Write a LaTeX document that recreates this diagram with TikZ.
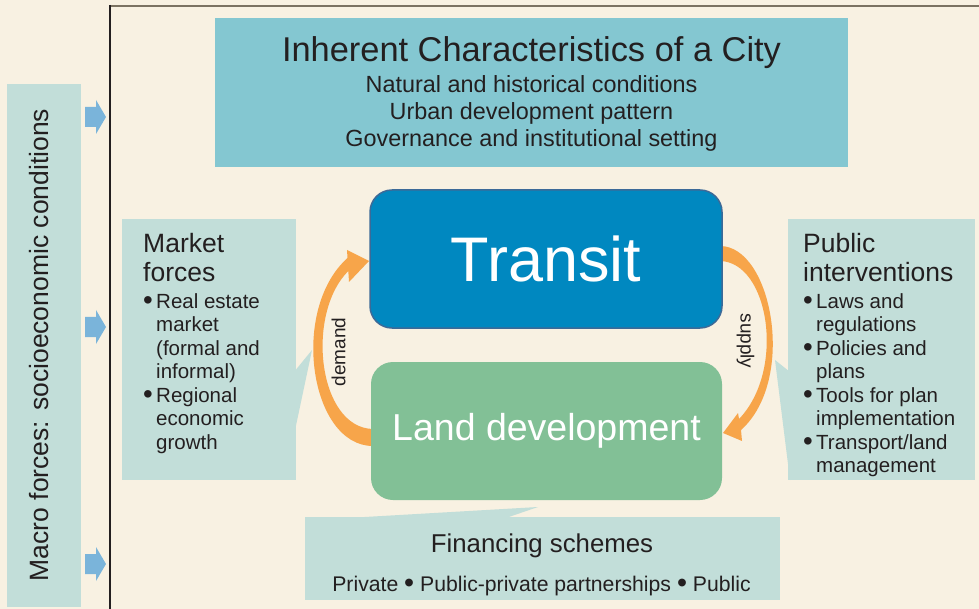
\documentclass[tikz,border=0pt]{standalone}
\usepackage{fontspec}
\setmainfont{Liberation Sans}
\usepackage{tikz}
\usetikzlibrary{positioning}
\usetikzlibrary{calc}
\definecolor{paper}{HTML}{F8F1E2}
\definecolor{mist}{HTML}{C2DED9}
\definecolor{lagoon}{HTML}{84C7D1}
\definecolor{transitblue}{HTML}{0088C0}
\definecolor{transitedge}{HTML}{3C6A98}
\definecolor{landgreen}{HTML}{82C096}
\definecolor{flow}{HTML}{F7A54A}
\definecolor{inflow}{HTML}{7AB4DA}
\definecolor{ink}{HTML}{231F20}
\definecolor{framegray}{HTML}{7B7262}
\newcommand{\bigdot}{\raisebox{-0.1ex}{\scalebox{1.35}{\textbullet}}}
\newcommand{\bulletpt}{\makebox[13pt][l]{\bigdot}}
\newcommand{\hangpt}{\hspace*{13pt}}

\begin{document}
\begin{tikzpicture}[x=1pt, y=-1pt,
  panel/.style={fill=mist, inner sep=0pt},
  core/.style={rounded corners=22pt, inner sep=0pt, text=white,
    minimum width=352pt, minimum height=138pt},
  heading/.style={anchor=north west, inner sep=0pt, align=left, text=ink,
    font=\fontsize{26.5}{29}\selectfont},
  items/.style={anchor=north west, inner sep=0pt, align=left, text=ink,
    font=\fontsize{20.5}{23.5}\selectfont},
  cityline/.style={anchor=base, inner sep=0pt, text=ink},
  flowlabel/.style={inner sep=0pt, text=ink, font=\fontsize{19}{22}\selectfont}
]

\useasboundingbox (0,0) rectangle (979,609);
\fill[paper] (0,0) rectangle (979,609);

% frame of the city
\draw[framegray, line width=2pt] (110,6) -- (979,6);
\draw[ink, line width=1.2pt] (110,5) -- (110,609);

% macro forces
\node[panel, minimum width=74pt, minimum height=523pt] (macro) at (44,345.5) {};
\node[rotate=90, inner sep=0pt, text=ink, font=\fontsize{26.5}{30}\selectfont]
  (macrotxt) at (39.5,345) {Macro forces: socioeconomic conditions};

\foreach \y in {117,327,564}
\fill[inflow] (85,\y-10) -- (96,\y-10) -- (96,\y-17) -- (106,\y)
  -- (96,\y+17) -- (96,\y+10) -- (85,\y+10) -- cycle;

% inherent characteristics
\node[fill=lagoon, inner sep=0pt, minimum width=633pt, minimum height=149pt]
  (city) at (531.5,92.5) {};
\node[cityline, font=\fontsize{34.4}{40}\selectfont] (citytitle) at (531.5,62)
  {Inherent Characteristics of a City};
\node[cityline, font=\fontsize{23.4}{27}\selectfont] (cityone) at (531.5,93)
  {Natural and historical conditions};
\node[cityline, font=\fontsize{23.4}{27}\selectfont] (citytwo) at (531.5,120)
  {Urban development pattern};
\node[cityline, font=\fontsize{23.4}{27}\selectfont] (citythree) at (531.5,147)
  {Governance and institutional setting};

% side panels
\node[panel, minimum width=174pt, minimum height=261pt] (market) at (209,349.5) {};
\fill[mist] (294,372) -- (312,350) -- (294,435) -- cycle;
\node[heading] (markethead) at (143,233.2) {Market\\forces};
\node[items] (marketitems) at (143,293.3)
  {\bulletpt Real estate\\\hangpt market\\\hangpt (formal and\\\hangpt informal)\\
   \bulletpt Regional\\\hangpt economic\\\hangpt growth};

\node[panel, minimum width=187pt, minimum height=261pt] (public) at (881.5,349.5) {};
\fill[mist] (790,372) -- (775,360) -- (790,480) -- cycle;
\node[heading] (publichead) at (803,233.2) {Public\\interventions};
\node[items] (publicitems) at (803,293.3)
  {\bulletpt Laws and\\\hangpt regulations\\\bulletpt Policies and\\\hangpt plans\\
   \bulletpt Tools for plan\\\hangpt implementation\\\bulletpt Transport/land\\\hangpt management};

\node[panel, minimum width=475pt, minimum height=83pt] (finance) at (542.5,558.5) {};
\fill[mist] (330,519) -- (538,507) -- (503,519) -- cycle;
\node[cityline, font=\fontsize{25.8}{30}\selectfont] (financehead) at (542,552)
  {Financing schemes};
\node[cityline, font=\fontsize{21.2}{24}\selectfont] (financeitems) at (541.5,591)
  {Private \bigdot{} Public-private partnerships \bigdot{} Public};

% transit and land development
\coordinate (transitwest) at (370,259);
\coordinate (transiteast) at (722,259);
\coordinate (landwest) at (371,431);
\coordinate (landeast) at (722,431);

% demand
\fill[flow] ($(landwest)+(2,15)$) .. controls +(-63,0) and +(-58,52) .. ($(transitwest)+(-22.5,-1)$)
  -- ($(transitwest)+(-23,-9)$) -- ($(transitwest)+(-1,2)$) -- ($(transitwest)+(-21,23)$)
  -- ($(transitwest)+(-21.7,12)$) .. controls +(-43,43) and +(-55,-1) .. ($(landwest)+(2,-2)$) -- cycle;
\node[flowlabel, rotate=90] (demand) at (338.5,352) {demand};

% supply
\fill[flow] ($(transiteast)+(-2,-13)$) .. controls +(52,0) and +(56,-50) .. ($(landeast)+(19,-1)$)
  -- ($(landeast)+(20,10)$) -- ($(landeast)+(1,2)$) -- ($(landeast)+(16,-18)$)
  -- ($(landeast)+(17,-12)$) .. controls +(47,-49) and +(49,1) .. ($(transiteast)+(-2,2)$) -- cycle;
\node[flowlabel, rotate=-90] (supply) at (745.5,341) {supply};

\node[core, fill=transitblue, draw=transitedge, line width=1.5pt,
  font=\fontsize{63}{70}\selectfont] (transit) at (546,259) {Transit};
\node[core, fill=landgreen, minimum width=351pt,
  font=\fontsize{37.5}{44}\selectfont] (land) at (546.5,431) {Land development};

\end{tikzpicture}
\end{document}
